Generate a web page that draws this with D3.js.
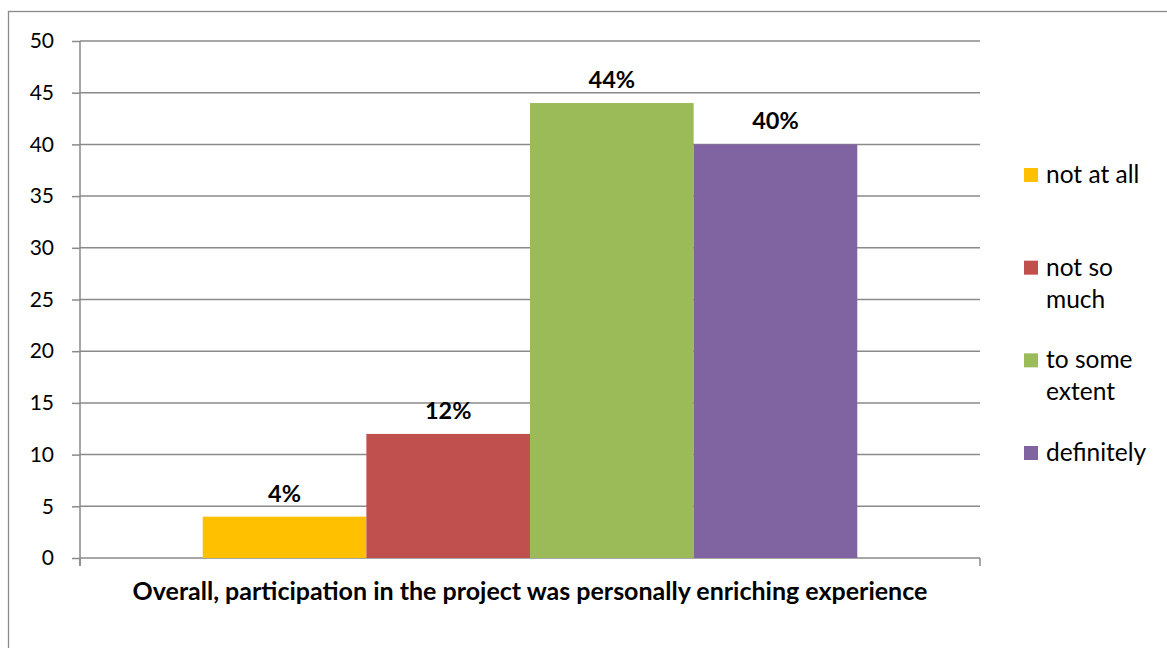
<!DOCTYPE html>
<html>
<head>
<meta charset="utf-8">
<script src="https://cdn.jsdelivr.net/npm/d3@7"></script>
<style>
  html, body { margin: 0; padding: 0; background: #fff; }
  svg { display: block; font-family: Lato, "Liberation Sans", sans-serif; }
</style>
</head>
<body>
<svg id="chart" width="1167" height="648"></svg>
<script>
// Survey answers for a single question, one bar per answer
const groupLabel = "Overall, participation in the project was personally enriching experience";
const categories = ["not at all", "not so much", "to some extent", "definitely"];
const values = [4, 12, 44, 40];
const valueLabels = ["4%", "12%", "44%", "40%"];
const yTicks = [0, 5, 10, 15, 20, 25, 30, 35, 40, 45, 50];
const barColors = ["#FFC000", "#C0504D", "#9BBB59", "#8064A2"];

const svg = d3.select("#chart");
const W = 1167, H = 648;
const plot = { left: 80, right: 980, top: 41, bottom: 558 };
const gridColor = "#8a8a8a";

// Chart frame
svg.append("rect")
  .attr("x", 8.5).attr("y", 11.5)
  .attr("width", W + 10).attr("height", H + 10)
  .attr("fill", "#fff")
  .attr("stroke", gridColor).attr("stroke-width", 1.3);

const y = d3.scaleLinear().domain([0, 50]).range([plot.bottom, plot.top]);
const x0 = d3.scaleBand().domain([groupLabel]).range([plot.left, plot.right]);
const x1 = d3.scaleBand().domain(categories)
  .range([x0(groupLabel), x0(groupLabel) + x0.bandwidth()])
  .paddingInner(0).paddingOuter(0.75);
const color = d3.scaleOrdinal().domain(categories).range(barColors);

// Horizontal gridlines
svg.append("g")
  .selectAll("line")
  .data(yTicks)
  .join("line")
  .attr("x1", plot.left).attr("x2", plot.right)
  .attr("y1", d => y(d)).attr("y2", d => y(d))
  .attr("stroke", gridColor).attr("stroke-width", 1.5);

// Value axis
const yAxis = d3.axisLeft(y).tickValues(yTicks).tickSize(8).tickPadding(18);
const gy = svg.append("g")
  .attr("transform", `translate(${plot.left},0)`)
  .call(yAxis);
gy.select(".domain").remove();
gy.selectAll(".tick line").attr("stroke", gridColor).attr("stroke-width", 1.5);
gy.selectAll(".tick text")
  .attr("font-family", "Lato, sans-serif")
  .attr("font-size", 21)
  .attr("fill", "#000");
gy.append("line")
  .attr("x1", 0).attr("x2", 0)
  .attr("y1", plot.top).attr("y2", plot.bottom + 8)
  .attr("stroke", gridColor).attr("stroke-width", 1.5);

// Category axis ticks at group edges
svg.append("g")
  .selectAll("line")
  .data([plot.left, plot.right])
  .join("line")
  .attr("x1", d => d).attr("x2", d => d)
  .attr("y1", plot.bottom).attr("y2", plot.bottom + 8)
  .attr("stroke", gridColor).attr("stroke-width", 1.5);

// Bars
const bars = svg.append("g")
  .selectAll("g")
  .data(categories.map((c, i) => ({ c, v: values[i], label: valueLabels[i] })))
  .join("g");

bars.append("rect")
  .attr("x", d => x1(d.c))
  .attr("width", x1.bandwidth())
  .attr("y", d => y(d.v))
  .attr("height", d => y(0) - y(d.v))
  .attr("fill", d => color(d.c));

bars.append("text")
  .attr("x", d => x1(d.c) + x1.bandwidth() / 2)
  .attr("y", d => y(d.v) - 15)
  .attr("text-anchor", "middle")
  .attr("font-size", 23.5)
  .attr("font-weight", "bold")
  .attr("fill", "#000")
  .text(d => d.label);

// Category label
svg.append("text")
  .attr("x", x0(groupLabel) + x0.bandwidth() / 2)
  .attr("y", 600)
  .attr("text-anchor", "middle")
  .attr("font-size", 25)
  .attr("font-weight", "bold")
  .attr("fill", "#000")
  .text(groupLabel);

// Legend
const legend = svg.append("g").attr("transform", "translate(1024,0)");
const legendY = d3.scalePoint().domain(categories).range([175, 453]);
const maxTextWidth = 100;
const lineHeight = 32;

categories.forEach(c => {
  const item = legend.append("g").attr("transform", `translate(0,${legendY(c)})`);
  item.append("rect")
    .attr("x", 0).attr("y", -7)
    .attr("width", 14).attr("height", 14)
    .attr("fill", color(c));
  const txt = item.append("text")
    .attr("x", 22)
    .attr("font-size", 24.5)
    .attr("fill", "#000");
  // wrap words into lines no wider than maxTextWidth
  const words = c.split(" ");
  let line = [];
  let lineNo = 0;
  let tspan = txt.append("tspan").attr("x", 22).attr("y", 8);
  words.forEach(w => {
    line.push(w);
    tspan.text(line.join(" "));
    if (tspan.node().getComputedTextLength() > maxTextWidth && line.length > 1) {
      line.pop();
      tspan.text(line.join(" "));
      line = [w];
      lineNo++;
      tspan = txt.append("tspan").attr("x", 22).attr("y", 8 + lineNo * lineHeight).text(w);
    }
  });
});
</script>
</body>
</html>
